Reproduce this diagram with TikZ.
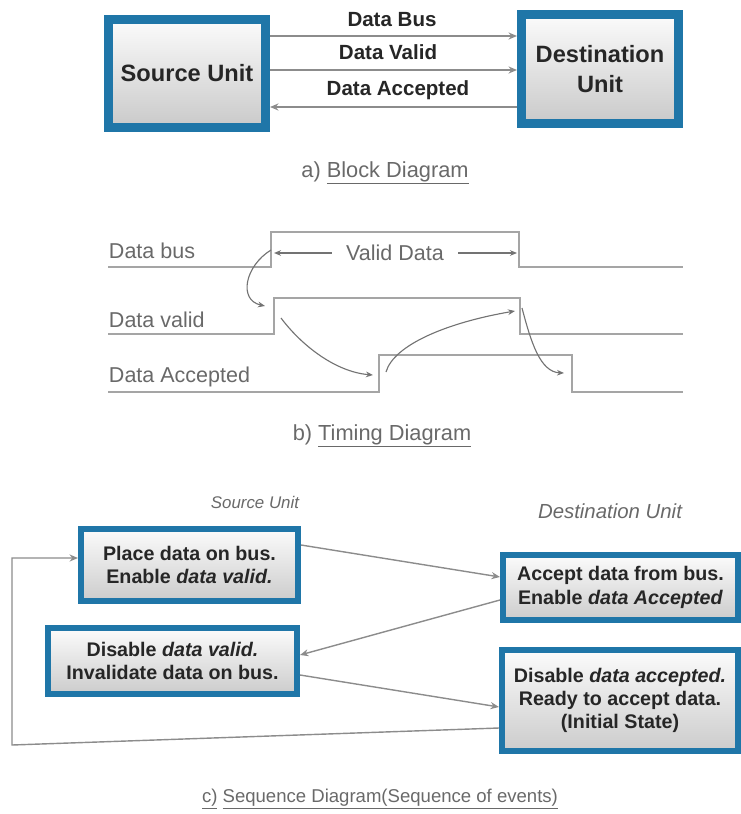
\documentclass[tikz,border=0pt]{standalone}
\usepackage{fontspec}
\setmainfont{Liberation Sans}
\usepackage{xcolor}
\usetikzlibrary{arrows.meta, shadows}
\definecolor{unitblue}{RGB}{31,118,168}
\definecolor{wiregray}{RGB}{165,165,165}
\definecolor{arrowgray}{RGB}{140,140,140}
\definecolor{labelgray}{RGB}{105,105,105}

\begin{document}
\begin{tikzpicture}[x=0.025cm, y=-0.025cm, >={Stealth[length=6pt, width=5pt]}]

        % --- Styles ---
        \tikzset{
            unitbox/.style={draw=unitblue, line width=6.4pt, top color=gray!3, bottom color=gray!42, text=black!85, align=center, inner sep=0pt, font=\bfseries\fontsize{16.8}{21}\selectfont, drop shadow={opacity=0.3, shadow xshift=0pt, shadow yshift=-2pt}},
            eventbox/.style={draw=unitblue, line width=4.6pt, top color=gray!3, bottom color=gray!40, text=black!85, align=center, inner sep=0pt, font=\bfseries\fontsize{14}{16.5}\selectfont, drop shadow={opacity=0.3, shadow xshift=0pt, shadow yshift=-1.5pt}},
            buslabel/.style={anchor=base, text=black!85, font=\bfseries\fontsize{14.6}{17}\selectfont},
            busarrow/.style={->, line width=1.3pt, arrowgray},
            wire/.style={line width=1.5pt, wiregray},
            wirelabel/.style={anchor=west, text=labelgray, font=\fontsize{15.3}{18}\selectfont},
            cause/.style={-{Stealth[length=5pt, width=4pt]}, line width=0.8pt, black!55},
            flow/.style={->, line width=1pt, arrowgray},
            figcaption/.style={text=labelgray, font=\fontsize{15.5}{18}\selectfont},
            sidelabel/.style={text=labelgray, font=\itshape\fontsize{12}{15}\selectfont}
        }

        \useasboundingbox (0,0) rectangle (741,814);

        % --- a) Block diagram ---
        \node[unitbox, minimum width=3.925cm, minimum height=2.7cm] (src) at (187,73.5) {Source Unit};
        \node[unitbox, minimum width=3.925cm, minimum height=2.725cm] (dst) at (600,69) {Destination\\Unit};

        \node[buslabel] (lbus) at (392,27) {Data Bus};
        \node[buslabel] (lvalid) at (388,60) {Data Valid};
        \node[buslabel] (lacc) at (398,96) {Data Accepted};

        \draw[busarrow] (src.east |- 0,36) -- (dst.west |- 0,36);
        \draw[busarrow] (src.east |- 0,70) -- (dst.west |- 0,70);
        \draw[busarrow] (dst.west |- 0,107) -- (src.east |- 0,107);

        \node[figcaption] (capa) at (385,173) {a) \underline{Block Diagram}};

        % --- b) Timing diagram ---
        \node[wirelabel] (tbus) at (104,251) {Data bus};
        \node[wirelabel] (tvalid) at (104,320) {Data valid};
        \node[wirelabel] (tacc) at (104,377) {Data Accepted};

        \draw[wire] (108,267) -- (271,267) -- (271,232) -- (519,232) -- (519,267) -- (683,267);
        \draw[wire] (108,334) -- (274,334) -- (274,298) -- (520,298) -- (520,334) -- (683,334);
        \draw[wire] (108,392) -- (379,392) -- (379,355) -- (572,355) -- (572,392) -- (683,392);

        \node[wirelabel, anchor=center, inner xsep=10pt] (vdata) at (395,253) {Valid Data};
        \coordinate (busrise) at (274,253);
        \coordinate (busfall) at (517,253);
        \draw[cause] (vdata.west) -- (busrise);
        \draw[cause] (vdata.east) -- (busfall);

        \coordinate (c1a) at (271,250);
        \coordinate (c1b) at (265,306);
        \coordinate (c2a) at (281,318);
        \coordinate (c2b) at (373,375);
        \coordinate (c3a) at (386,372);
        \coordinate (c3b) at (515,311);
        \coordinate (c4a) at (522,308);
        \coordinate (c4b) at (564,373);
        \draw[cause] (c1a) .. controls (245,266) and (238,300) .. (c1b);
        \draw[cause] (c2a) .. controls (302,346) and (336,372) .. (c2b);
        \draw[cause] (c3a) .. controls (394,344) and (450,322) .. (c3b);
        \draw[cause] (c4a) .. controls (531,342) and (540,372) .. (c4b);

        \node[figcaption] (capb) at (382,436) {b) \underline{Timing Diagram}};

        % --- c) Sequence diagram ---
        \node[sidelabel] (hsrc) at (255,502) {Source Unit};
        \node[sidelabel, font=\itshape\fontsize{14.5}{17}\selectfont] (hdst) at (610,511) {Destination Unit};

        \node[eventbox, minimum width=5.4125cm, minimum height=1.7875cm] (place) at (189.5,565) {Place data on bus.\\Enable \textit{data valid.}};
        \node[eventbox, minimum width=5.8625cm, minimum height=1.6125cm] (accept) at (620.5,587.5) {Accept data from bus.\\Enable \textit{data Accepted}};
        \node[eventbox, minimum width=6.2125cm, minimum height=1.6375cm] (invalid) at (172.5,661) {Disable \textit{data valid.}\\Invalidate data on bus.};
        \node[eventbox, minimum width=5.8875cm, minimum height=2.5125cm] (ready) at (620,700.5) {Disable \textit{data accepted.}\\Ready to accept data.\\(Initial State)};

        \draw[flow] (place.east |- 0,545) -- (accept.west |- 0,577);
        \draw[flow] (accept.west |- 0,600) -- (invalid.east |- 0,655);
        \draw[flow] (invalid.east |- 0,675) -- (ready.west |- 0,707);

        \coordinate (loopbot) at (12,745);
        \coordinate (looptop) at (12,558);
        \draw[flow] (ready.west |- 0,728) -- (loopbot) -- (looptop) -- (place.west |- looptop);

        \node[figcaption, font=\fontsize{13.2}{16}\selectfont] (capc) at (380,799) {\underline{c)} \underline{Sequence Diagram(Sequence of events)}};

\end{tikzpicture}
\end{document}
